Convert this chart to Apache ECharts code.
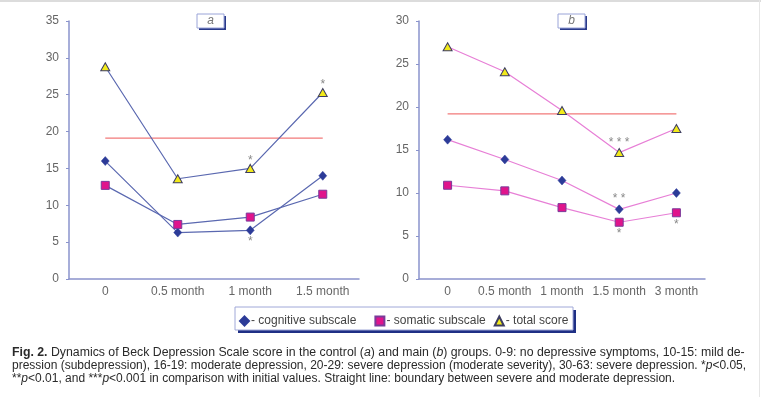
<!DOCTYPE html>
<html><head><meta charset="utf-8">
<script src="https://cdn.jsdelivr.net/npm/echarts@6/dist/echarts.min.js"></script>
<style>html,body{margin:0;padding:0;background:#fff}#c{width:761px;height:397px}</style>
</head><body><div id="c"></div>
<script>
// ---- data ----
const catsA = ['0', '0.5 month', '1 month', '1.5 month'];
const catsB = ['0', '0.5 month', '1 month', '1.5 month', '3 month'];
const cogA = [16.0, 6.3, 6.6, 14.0];
const somA = [12.7, 7.4, 8.4, 11.5];
const totA = [28.8, 13.6, 15.0, 25.3];
const boundA = [19.1, 19.1, 19.1, 19.1];
const cogB = [16.2, 13.9, 11.45, 8.1, 10.0];
const somB = [10.9, 10.25, 8.3, 6.6, 7.7];
const totB = [27.0, 24.1, 19.6, 14.7, 17.5];
const boundB = [19.2, 19.2, 19.2, 19.2, 19.2];
const sigCogA = ['', '', '*', ''];
const sigTotA = ['', '', '*', '*'];
const sigCogB = ['', '', '', '**', ''];
const sigSomB = ['', '', '', '*', '*'];
const sigTotB = ['', '', '', '***', ''];
const seriesNames = ['cognitive subscale', 'somatic subscale', 'total score'];
const panelTitles = ['a', 'b'];
const captionLines = [
  [{t:'Fig. 2.', s:'b'}, {t:' Dynamics of Beck Depression Scale score in the control ('}, {t:'a', s:'i'}, {t:') and main ('}, {t:'b', s:'i'}, {t:') groups. 0-9: no depressive symptoms, 10-15: mild de-'}],
  [{t:'pression (subdepression), 16-19: moderate depression, 20-29: severe depression (moderate severity), 30-63: severe depression. *'}, {t:'p', s:'i'}, {t:'<0.05,'}],
  [{t:'**'}, {t:'p', s:'i'}, {t:'<0.01, and ***'}, {t:'p', s:'i'}, {t:'<0.001 in comparison with initial values. Straight line: boundary between severe and moderate depression.'}]
];

// ---- styles ----
const FONT = 'Liberation Sans, Arial, sans-serif';
const axisCol = '#8a93cc';
const labCol = '#666';
const lineA = '#5a68b0';
const lineB = '#e77fd6';
const redCol = '#f27a7a';
const sym = {
  cog: {symbol:'diamond', symbolSize:[8,9], itemStyle:{color:'#2c3b98', borderColor:'#2c3b98', borderWidth:0.5}},
  som: {symbol:'rect', symbolSize:8, itemStyle:{color:'#e0148c', borderColor:'#7a3a9a', borderWidth:1}},
  tot: {symbol:'triangle', symbolSize:[9,8], itemStyle:{color:'#f2ea1a', borderColor:'#3d3d60', borderWidth:1}}
};

function mk(vals, sig, pos, dist) {
  return vals.map((v, i) => sig && sig[i] ? {
    value: v,
    label: {show:true, formatter: sig[i].split('').join(' '), position: pos, distance: dist, color:'#888', fontSize:12, fontFamily: FONT}
  } : v);
}

function line(name, data, xi, lc, s) {
  return Object.assign({
    name: name, type:'line', xAxisIndex: xi, yAxisIndex: xi, data: data,
    lineStyle:{color: lc, width:1.2}, animation:false, z:3
  }, s);
}

const xAxisBase = (gi, cats) => ({
  type:'category', gridIndex: gi, data: cats, boundaryGap: true,
  axisLine:{lineStyle:{color: axisCol, width:1.5}},
  axisTick:{alignWithLabel:true, length:3, interval: (i) => i > 0, lineStyle:{color: axisCol}},
  axisLabel:{color: labCol, fontSize:12, fontFamily: FONT, margin:7, interval:0}
});
const yAxisBase = (gi, max) => ({
  type:'value', gridIndex: gi, min:0, max: max, interval:5,
  splitLine:{show:false},
  axisLine:{show:true, lineStyle:{color: axisCol, width:1.5}},
  axisTick:{show:true, length:3, lineStyle:{color: axisCol}},
  axisLabel:{color: labCol, fontSize:12, fontFamily: FONT, margin:10}
});

function titleBox(x, y, w, h, txt) {
  return {type:'group', children:[
    {type:'rect', shape:{x:x+2, y:y+2, width:w, height:h}, style:{fill:'#2a3a8a'}},
    {type:'rect', shape:{x:x, y:y, width:w, height:h}, style:{fill:'#fff', stroke:'#9aa4d8', lineWidth:1}},
    {type:'text', x: x + w/2, y: y + h/2, style:{text: txt, fill:'#777', font:'italic 12px ' + FONT, align:'center', verticalAlign:'middle'}}
  ]};
}

function captionText(parts, y, fs) {
  const rich = {n:{fontSize:fs, fontFamily:FONT, fill:'#2a2a2a'}, b:{fontSize:fs, fontFamily:FONT, fontWeight:'bold', fill:'#2a2a2a'}, i:{fontSize:fs, fontFamily:FONT, fontStyle:'italic', fill:'#2a2a2a'}};
  const txt = parts.map(p => '{' + (p.s || 'n') + '|' + p.t + '}').join('');
  return {type:'text', x:12, y:y, style:{text: txt, rich: rich, verticalAlign:'middle'}};
}

const legendText = {color:'#444', fontSize:12, fontFamily: FONT, padding:[0,0,0,-3]};

const chart = echarts.init(document.getElementById('c'), null, {renderer:'canvas'});
chart.setOption({
  animation:false,
  backgroundColor:'#fff',
  grid:[
    {left:69, top:21, width:290, height:258},
    {left:419, top:21, width:286, height:258}
  ],
  xAxis:[xAxisBase(0, catsA), xAxisBase(1, catsB)],
  yAxis:[yAxisBase(0, 35), yAxisBase(1, 30)],
  legend:{
    left:234, top:310, itemWidth:9, itemHeight:9, itemGap:8, selectedMode:false,
    formatter: n => '- ' + n + (n === seriesNames[0] ? '   ' : ''),
    textStyle: legendText,
    data:[
      {name:seriesNames[0], icon:'diamond'},
      {name:seriesNames[1], icon:'rect'},
      {name:seriesNames[2], icon:'triangle'}
    ]
  },
  series:[
    {name:'boundary a', type:'line', xAxisIndex:0, yAxisIndex:0, data: boundA, symbol:'none', lineStyle:{color:redCol, width:1.2}, z:2},
    line(seriesNames[2], mk(totA, sigTotA, 'top', -3), 0, lineA, sym.tot),
    line(seriesNames[0], mk(cogA, sigCogA, 'bottom', 1), 0, lineA, sym.cog),
    line(seriesNames[1], mk(somA, null), 0, lineA, sym.som),
    {name:'boundary b', type:'line', xAxisIndex:1, yAxisIndex:1, data: boundB, symbol:'none', lineStyle:{color:redCol, width:1.2}, z:2},
    line(seriesNames[2], mk(totB, sigTotB, 'top', -1), 1, lineB, sym.tot),
    line(seriesNames[0], mk(cogB, sigCogB, 'top', 0), 1, lineB, sym.cog),
    line(seriesNames[1], mk(somB, sigSomB, 'bottom', 1), 1, lineB, sym.som)
  ],
  graphic:[
    {type:'line', shape:{x1:0, y1:1, x2:761, y2:1}, style:{stroke:'#dcdcdc', lineWidth:2}},
    {type:'line', shape:{x1:759.5, y1:0, x2:759.5, y2:397}, style:{stroke:'#e6e6e6', lineWidth:1}},
    titleBox(197, 14, 27, 14, panelTitles[0]),
    titleBox(558, 14, 27, 14, panelTitles[1]),
    {type:'rect', z:-1, shape:{x:238, y:310, width:338, height:23}, style:{fill:'#1f2f85'}},
    {type:'rect', z:-1, shape:{x:235, y:307, width:338, height:23}, style:{fill:'#fff', stroke:'#a0a8d8', lineWidth:1}},
    captionText(captionLines[0], 353, 12.3),
    captionText(captionLines[1], 366, 12),
    captionText(captionLines[2], 379, 12)
  ]
});
</script></body></html>
